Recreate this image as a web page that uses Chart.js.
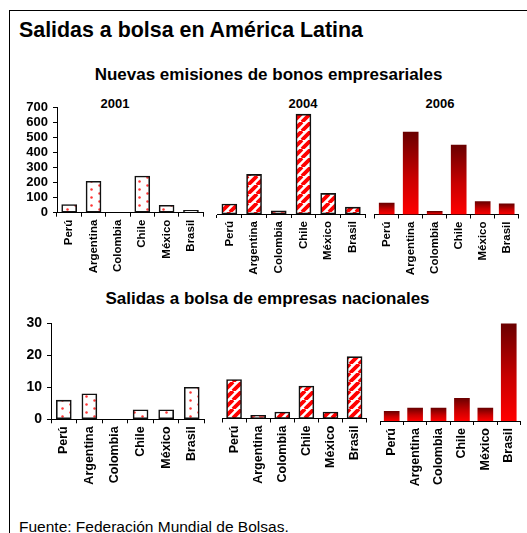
<!DOCTYPE html>
<html>
<head>
<meta charset="utf-8">
<title>Salidas a bolsa en América Latina</title>
<script src="https://cdn.jsdelivr.net/npm/chart.js@4.4.0/dist/chart.umd.min.js"></script>
<style>
  body { margin: 0; background: #fff; font-family: Arial, "Liberation Sans", sans-serif; }
  #page { position: relative; width: 527px; height: 533px; overflow: hidden; }
  #frame { position: absolute; left: 9px; top: 10px; width: 540px; height: 540px; border: 1px solid #000; }
  .txt { position: absolute; white-space: nowrap; color: #000; }
  .panel { position: absolute; }
</style>
</head>
<body>
<div id="page">
  <div id="frame"></div>
  <div class="txt" style="left:19px; top:20.2px; font-size:21.4px; line-height:21.4px; font-weight:bold;">Salidas a bolsa en América Latina</div>
  <div class="txt" style="left:268.5px; top:65.5px; font-size:17px; line-height:17px; font-weight:bold; transform:translateX(-50%);">Nuevas emisiones de bonos empresariales</div>
  <div class="txt" style="left:267.5px; top:290px; font-size:17px; line-height:17px; font-weight:bold; transform:translateX(-50%);">Salidas a bolsa de empresas nacionales</div>
  <div class="txt" style="left:115px; top:97px; font-size:13px; line-height:13px; font-weight:bold; transform:translateX(-50%);">2001</div>
  <div class="txt" style="left:303px; top:97px; font-size:13px; line-height:13px; font-weight:bold; transform:translateX(-50%);">2004</div>
  <div class="txt" style="left:440px; top:97px; font-size:13px; line-height:13px; font-weight:bold; transform:translateX(-50%);">2006</div>
  <div class="txt" style="left:19px; top:519px; font-size:15.5px; line-height:15.5px;">Fuente: Federación Mundial de Bolsas.</div>
</div>
<script>
"use strict";

// countries on the x axis of every panel
let paises = ["Perú", "Argentina", "Colombia", "Chile", "México", "Brasil"];

// new corporate bond issues
let bonos2001 = [55, 210, 0, 245, 50, 15];
let bonos2004 = [65, 260, 20, 655, 135, 45];
let bonos2006 = [75, 540, 20, 455, 85, 70];

// stock market listings of national companies
let salidas2001 = [6, 8, 0, 3, 3, 10];
let salidas2004 = [12, 1, 2, 10, 2, 19];
let salidas2006 = [3, 4, 4, 7, 4, 30];

// y axis tick values
let ejeBonos = [0, 100, 200, 300, 400, 500, 600, 700];
let ejeSalidas = [0, 10, 20, 30];

let fuente = "Arial, 'Liberation Sans', sans-serif";
let page = document.getElementById("page");

// white with red dots (2001)
function patronPuntos() {
  let c = document.createElement("canvas");
  c.width = 16;
  c.height = 8;
  let g = c.getContext("2d");
  g.fillStyle = "#fff";
  g.fillRect(0, 0, 16, 8);
  g.fillStyle = "#ff3535";
  g.beginPath();
  g.arc(4.5, 2.5, 1.25, 0, Math.PI * 2);
  g.fill();
  g.beginPath();
  g.arc(12.5, 6.5, 1.25, 0, Math.PI * 2);
  g.fill();
  return g.createPattern(c, "repeat");
}

// red and white diagonal stripes (2004)
function patronRayas() {
  let n = 9;
  let c = document.createElement("canvas");
  c.width = n;
  c.height = n;
  let g = c.getContext("2d");
  g.fillStyle = "#fff";
  g.fillRect(0, 0, n, n);
  g.strokeStyle = "#ff0000";
  g.lineWidth = 3.8;
  g.beginPath();
  for (let k = -1; k <= 1; k++) {
    g.moveTo(k * n, n);
    g.lineTo(k * n + n, 0);
  }
  g.stroke();
  return g.createPattern(c, "repeat");
}

// dark red to red, top to bottom of each bar (2006)
function degradado(ctx) {
  let chart = ctx.chart;
  let y = chart.scales.y;
  if (!y || ctx.type !== "data") return "#c00000";
  let top = y.getPixelForValue(ctx.raw);
  let bottom = y.getPixelForValue(0);
  if (!isFinite(top) || !isFinite(bottom) || top === bottom) return "#ff0000";
  let gr = chart.ctx.createLinearGradient(0, top, 0, bottom);
  gr.addColorStop(0, "#6a0000");
  gr.addColorStop(0.55, "#c80000");
  gr.addColorStop(1, "#ff0000");
  return gr;
}

let puntos = patronPuntos();
let rayas = patronRayas();

let estilos = {
  puntos: { backgroundColor: puntos, borderColor: "#111", borderWidth: 1.6 },
  rayas: { backgroundColor: rayas, borderColor: "#111", borderWidth: 1.6 },
  degradado: { backgroundColor: degradado, borderColor: "rgba(0,0,0,0)", borderWidth: 0 },
};

// caja = canvas [left, top, width, height]; area = plot [left, top, right, bottom]
let paneles = [
  { datos: bonos2001, estilo: "puntos", ejeY: true, eje: ejeBonos, fy: 13, fx: 11.5, caja: [15, 95, 193, 195], area: [57, 106, 205, 212.7] },
  { datos: bonos2004, estilo: "rayas", ejeY: false, eje: ejeBonos, fy: 13, fx: 11.5, caja: [212, 95, 158, 195], area: [217, 107.3, 366, 214] },
  { datos: bonos2006, estilo: "degradado", ejeY: false, eje: ejeBonos, fy: 13, fx: 11.5, caja: [371, 95, 156, 195], area: [374.7, 107.8, 518.7, 214.5] },
  { datos: salidas2001, estilo: "puntos", ejeY: true, eje: ejeSalidas, fy: 14, fx: 12.5, caja: [10, 310, 200, 190], area: [51, 321.7, 207, 419.3] },
  { datos: salidas2004, estilo: "rayas", ejeY: false, eje: ejeSalidas, fy: 14, fx: 12.5, caja: [215, 310, 158, 190], area: [222, 320.9, 368, 418.5] },
  { datos: salidas2006, estilo: "degradado", ejeY: false, eje: ejeSalidas, fy: 14, fx: 12.5, caja: [376, 310, 151, 190], area: [380, 323.4, 524, 421] },
];

function crearPanel(p) {
  let [cl, ct, cw, ch] = p.caja;
  let [al, at, ar, ab] = p.area;
  let div = document.createElement("div");
  div.className = "panel";
  div.style.left = cl + "px";
  div.style.top = ct + "px";
  let canvas = document.createElement("canvas");
  canvas.width = cw;
  canvas.height = ch;
  canvas.style.width = cw + "px";
  canvas.style.height = ch + "px";
  div.appendChild(canvas);
  page.appendChild(div);

  let anchoY = al - cl;
  let altoX = ct + ch - ab;
  let est = estilos[p.estilo];

  let ejeX = {
    offset: true,
    grid: { display: true, offset: true, drawOnChartArea: false, drawTicks: true, tickLength: 4, color: "#000", lineWidth: 1 },
    border: { display: true, color: "#000", width: 1 },
    ticks: { color: "#000", font: { family: fuente, size: p.fx, weight: 700 }, minRotation: 90, maxRotation: 90, autoSkip: false, padding: 3 },
    afterFit: (s) => { s.height = altoX; },
  };

  let ejeV = {
    display: p.ejeY,
    min: 0,
    max: p.eje[p.eje.length - 1],
    afterBuildTicks: (s) => { s.ticks = p.eje.map((v) => ({ value: v })); },
    grid: { drawOnChartArea: false, drawTicks: true, tickLength: 4, color: "#000", lineWidth: 1 },
    border: { display: true, color: "#000", width: 1 },
    ticks: { color: "#000", font: { family: fuente, size: p.fy, weight: 700 }, padding: 5, autoSkip: false },
  };
  if (p.ejeY) ejeV.afterFit = (s) => { s.width = anchoY; };

  return new Chart(canvas, {
    type: "bar",
    data: {
      labels: paises,
      datasets: [{
        data: p.datos,
        backgroundColor: est.backgroundColor,
        borderColor: est.borderColor,
        borderWidth: est.borderWidth,
        borderSkipped: false,
        barThickness: 15,
      }],
    },
    options: {
      responsive: false,
      animation: false,
      devicePixelRatio: 1,
      layout: {
        padding: {
          left: p.ejeY ? 0 : al - cl,
          right: cl + cw - ar,
          top: at - ct,
          bottom: 0,
        },
      },
      plugins: { legend: { display: false }, tooltip: { enabled: false } },
      scales: { x: ejeX, y: ejeV },
    },
  });
}

let charts = paneles.map(crearPanel);
</script>
</body>
</html>
